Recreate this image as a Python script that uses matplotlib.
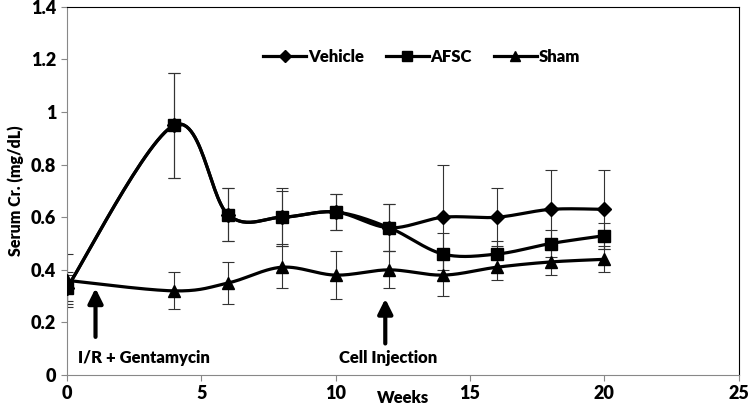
import numpy as np
import matplotlib.pyplot as plt
from matplotlib.lines import Line2D

plt.rcParams['font.family'] = ['Lato', 'DejaVu Sans']
plt.rcParams['font.weight'] = 'heavy'
plt.rcParams['axes.labelweight'] = 'heavy'

# Data (weeks, serum creatinine mg/dL, error)
weeks = [0, 4, 6, 8, 10, 12, 14, 16, 18, 20]
vehicle = [0.33, 0.95, 0.61, 0.60, 0.62, 0.56, 0.60, 0.60, 0.63, 0.63]
vehicle_err = [0.06, 0.20, 0.10, 0.11, 0.07, 0.09, 0.20, 0.11, 0.15, 0.15]
afsc = [0.33, 0.95, 0.61, 0.60, 0.62, 0.56, 0.46, 0.46, 0.50, 0.53]
afsc_err = [0.05, 0.20, 0.10, 0.10, 0.07, 0.09, 0.08, 0.05, 0.05, 0.05]
sham = [0.36, 0.32, 0.35, 0.41, 0.38, 0.40, 0.38, 0.41, 0.43, 0.44]
sham_err = [0.10, 0.07, 0.08, 0.08, 0.09, 0.07, 0.08, 0.05, 0.05, 0.05]


def smooth(x, y, n=30):
    # Excel-style smoothed line (Bezier, control points from neighbours)
    p = np.column_stack([x, y]).astype(float)
    pts = []
    for i in range(len(p) - 1):
        p0 = p[i - 1] if i > 0 else p[i]
        p1, p2 = p[i], p[i + 1]
        p3 = p[i + 2] if i + 2 < len(p) else p[i + 1]
        c1 = p1 + (p2 - p0) / 6
        c2 = p2 - (p3 - p1) / 6
        t = np.linspace(0, 1, n)[:, None]
        seg = ((1 - t) ** 3) * p1 + 3 * ((1 - t) ** 2) * t * c1 + 3 * (1 - t) * t ** 2 * c2 + t ** 3 * p2
        pts.append(seg if i == 0 else seg[1:])
    pts = np.vstack(pts)
    return pts[:, 0], pts[:, 1]


fig, ax = plt.subplots(figsize=(7.5, 4.05), dpi=100)
fig.subplots_adjust(left=0.089, right=0.985, top=0.983, bottom=0.074)

series = [('Vehicle', vehicle, vehicle_err, 'D', 7),
          ('AFSC', afsc, afsc_err, 's', 8.5),
          ('Sham', sham, sham_err, '^', 8.5)]
handles = []
for name, y, e, m, ms in series:
    ax.errorbar(weeks, y, yerr=e, fmt='none', ecolor='#333333', elinewidth=0.8,
                capsize=4, capthick=0.8, zorder=2)
    xs, ys = smooth(weeks, y)
    ax.plot(xs, ys, color='black', lw=2.3, zorder=3)
    ax.plot(weeks, y, ls='none', marker=m, ms=ms, color='black', zorder=4)
    handles.append(Line2D([], [], color='black', lw=2.3, marker=m, ms=ms * 0.85, label=name))

ax.legend(handles=handles, loc='center', bbox_to_anchor=(0.528, 0.865), ncol=3,
          frameon=False, fontsize=12, handlelength=2.6, columnspacing=1.3,
          handletextpad=0.1)

# treatment arrows
ax.annotate('', xy=(1.07, 0.33), xytext=(1.07, 0.145),
            arrowprops=dict(arrowstyle='-|>', color='black', lw=3,
                            mutation_scale=22, shrinkA=0, shrinkB=0))
ax.annotate('', xy=(11.85, 0.29), xytext=(11.85, 0.12),
            arrowprops=dict(arrowstyle='-|>', color='black', lw=3,
                            mutation_scale=22, shrinkA=0, shrinkB=0))
ax.text(2.86, 0.065, 'I/R + Gentamycin', ha='center', va='center', fontsize=12)
ax.text(11.95, 0.065, 'Cell Injection', ha='center', va='center', fontsize=12)

ax.set_xlim(0, 25)
ax.set_ylim(0, 1.4)
ax.set_xticks([0, 5, 10, 15, 20, 25])
ax.set_yticks(np.arange(0, 1.41, 0.2))
ax.set_yticklabels(['0', '0.2', '0.4', '0.6', '0.8', '1', '1.2', '1.4'])
ax.tick_params(labelsize=13, direction='out', length=4, color='#888888')
ax.set_ylabel('Serum Cr. (mg/dL)', fontsize=11.5, labelpad=5)
ax.text(12.5, -0.087, 'Weeks', ha='center', va='center', fontsize=12,
        transform=ax.transData, clip_on=False)

for s in ['left', 'bottom']:
    ax.spines[s].set_color('#888888')
for s in ['top', 'right']:
    ax.spines[s].set_color('black')

plt.savefig('out.png', dpi=100)
